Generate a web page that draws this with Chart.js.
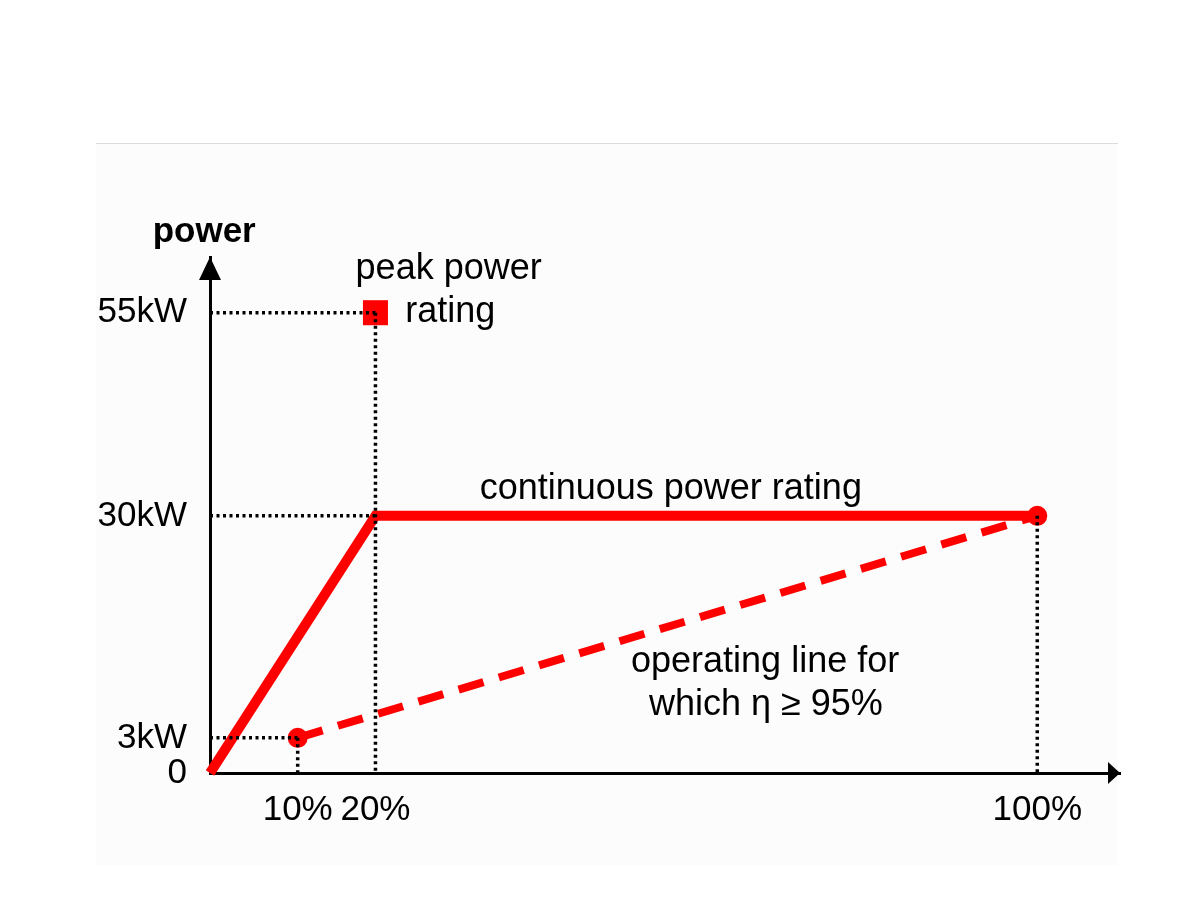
<!DOCTYPE html>
<html>
<head>
<meta charset="utf-8">
<script src="https://cdn.jsdelivr.net/npm/chart.js@4.4.1/dist/chart.umd.min.js"></script>
<style>
  html, body { margin: 0; padding: 0; background: #fff; }
  #wrap { position: relative; width: 1200px; height: 900px; }
  #panel { position: absolute; left: 96px; top: 143px; width: 1022px; height: 721px; background: #fcfcfc; border-top: 1px solid #dcdcdc; }
  #chart { position: absolute; left: 0; top: 0; }
</style>
</head>
<body>
<div id="wrap">
  <div id="panel"></div>
  <canvas id="chart" width="1200" height="900"></canvas>
</div>
<script>
// values (x in %, y in kW as drawn)
const xTicks = [10.6, 20, 100];
const xTickLabels = ['10%', '20%', '100%'];
const yTicks = [0, 4.1, 30, 53.7];
const yTickLabels = ['0', '3kW', '30kW', '55kW'];

const continuousX = [0, 20, 100];
const continuousY = [0, 30, 30];
const operatingX = [10.6, 100];
const operatingY = [4.1, 30];
const peakX = [20];
const peakY = [53.7];

// dotted guides: x0, y0, x1, y1
const guides = [
  [0, 53.7, 20, 53.7],
  [20, 53.7, 20, 0],
  [0, 30, 20, 30],
  [0, 4.1, 10.6, 4.1],
  [10.6, 4.1, 10.6, 0],
  [100, 30, 100, 0]
];

const notes = [
  { text: 'power', x: -0.7, y: 63.1, align: 'center', bold: true },
  { text: 'peak power', x: 17.6, y: 58.8, align: 'left' },
  { text: 'rating', x: 23.6, y: 53.8, align: 'left' },
  { text: 'continuous power rating', x: 55.7, y: 33.1, align: 'center' },
  { text: 'operating line for', x: 67.1, y: 12.9, align: 'center' },
  { text: 'which \u03b7 \u2265 95%', x: 67.2, y: 7.9, align: 'center' }
];

const FONT = "'Liberation Sans', Arial, sans-serif";
const RED = '#ff0000';

const toPoints = (xs, ys) => xs.map((x, i) => ({ x: x, y: ys[i] }));

const guideSets = guides.map((g) => ({
  type: 'line',
  data: [{ x: g[0], y: g[1] }, { x: g[2], y: g[3] }],
  borderColor: '#000',
  borderWidth: 3.5,
  borderDash: [3, 3.5],
  pointRadius: 0,
  clip: false,
  order: 0
}));

const arrowsAndNotes = {
  id: 'arrowsAndNotes',
  afterDraw(chart) {
    const ctx = chart.ctx;
    const xs = chart.scales.x;
    const ys = chart.scales.y;
    const area = chart.chartArea;
    ctx.save();
    ctx.fillStyle = '#000';
    // y arrow
    ctx.beginPath();
    ctx.moveTo(area.left, area.top);
    ctx.lineTo(area.left - 11, area.top + 23);
    ctx.lineTo(area.left + 11, area.top + 23);
    ctx.closePath();
    ctx.fill();
    // x arrow
    ctx.beginPath();
    ctx.moveTo(area.right, area.bottom);
    ctx.lineTo(area.right - 12, area.bottom - 11);
    ctx.lineTo(area.right - 12, area.bottom + 11);
    ctx.closePath();
    ctx.fill();

    ctx.textBaseline = 'middle';
    notes.forEach((n) => {
      ctx.font = (n.bold ? 'bold 35px ' : '36px ') + FONT;
      ctx.textAlign = n.align;
      ctx.fillText(n.text, xs.getPixelForValue(n.x), ys.getPixelForValue(n.y));
    });
    ctx.restore();
  }
};

const context = document.getElementById('chart').getContext('2d');

new Chart(context, {
  type: 'line',
  data: {
    datasets: guideSets.concat([
      {
        label: 'peak power rating',
        type: 'scatter',
        data: toPoints(peakX, peakY),
        pointStyle: 'rect',
        pointRadius: 17.7,
        pointBackgroundColor: RED,
        pointBorderWidth: 0,
        showLine: false,
        clip: false,
        order: 1
      },
      {
        label: 'continuous power rating',
        data: toPoints(continuousX, continuousY),
        borderColor: RED,
        borderWidth: 10,
        pointRadius: [0, 0, 10],
        pointBackgroundColor: RED,
        pointBorderWidth: 0,
        tension: 0,
        clip: false,
        order: 2
      },
      {
        label: 'operating line',
        data: toPoints(operatingX, operatingY),
        borderColor: RED,
        borderWidth: 8,
        borderDash: [26, 16],
        pointRadius: [10, 0],
        pointBackgroundColor: RED,
        pointBorderWidth: 0,
        tension: 0,
        clip: false,
        order: 3
      }
    ])
  },
  options: {
    responsive: false,
    animation: false,
    devicePixelRatio: 1,
    layout: {
      padding: { top: 257, right: 80, left: 0, bottom: 0 }
    },
    scales: {
      x: {
        type: 'linear',
        min: 0,
        max: 110,
        afterFit: (scale) => { scale.height = 127; },
        afterBuildTicks: (scale) => { scale.ticks = xTicks.map((v) => ({ value: v })); },
        grid: { display: false, drawTicks: false },
        border: { display: true, color: '#000', width: 3 },
        ticks: {
          autoSkip: false,
          maxRotation: 0,
          padding: 16,
          color: '#000',
          font: { family: FONT, size: 35 },
          callback: (value, index) => xTickLabels[index]
        }
      },
      y: {
        type: 'linear',
        min: 0,
        max: 60.2,
        afterFit: (scale) => { scale.width = 210; },
        afterBuildTicks: (scale) => { scale.ticks = yTicks.map((v) => ({ value: v })); },
        grid: { display: false, drawTicks: false },
        border: { display: true, color: '#000', width: 3 },
        ticks: {
          autoSkip: false,
          padding: 23,
          color: '#000',
          font: { family: FONT, size: 35 },
          callback: (value, index) => yTickLabels[index]
        }
      }
    },
    plugins: {
      legend: { display: false },
      title: { display: false },
      tooltip: { enabled: false }
    }
  },
  plugins: [arrowsAndNotes]
});
</script>
</body>
</html>
